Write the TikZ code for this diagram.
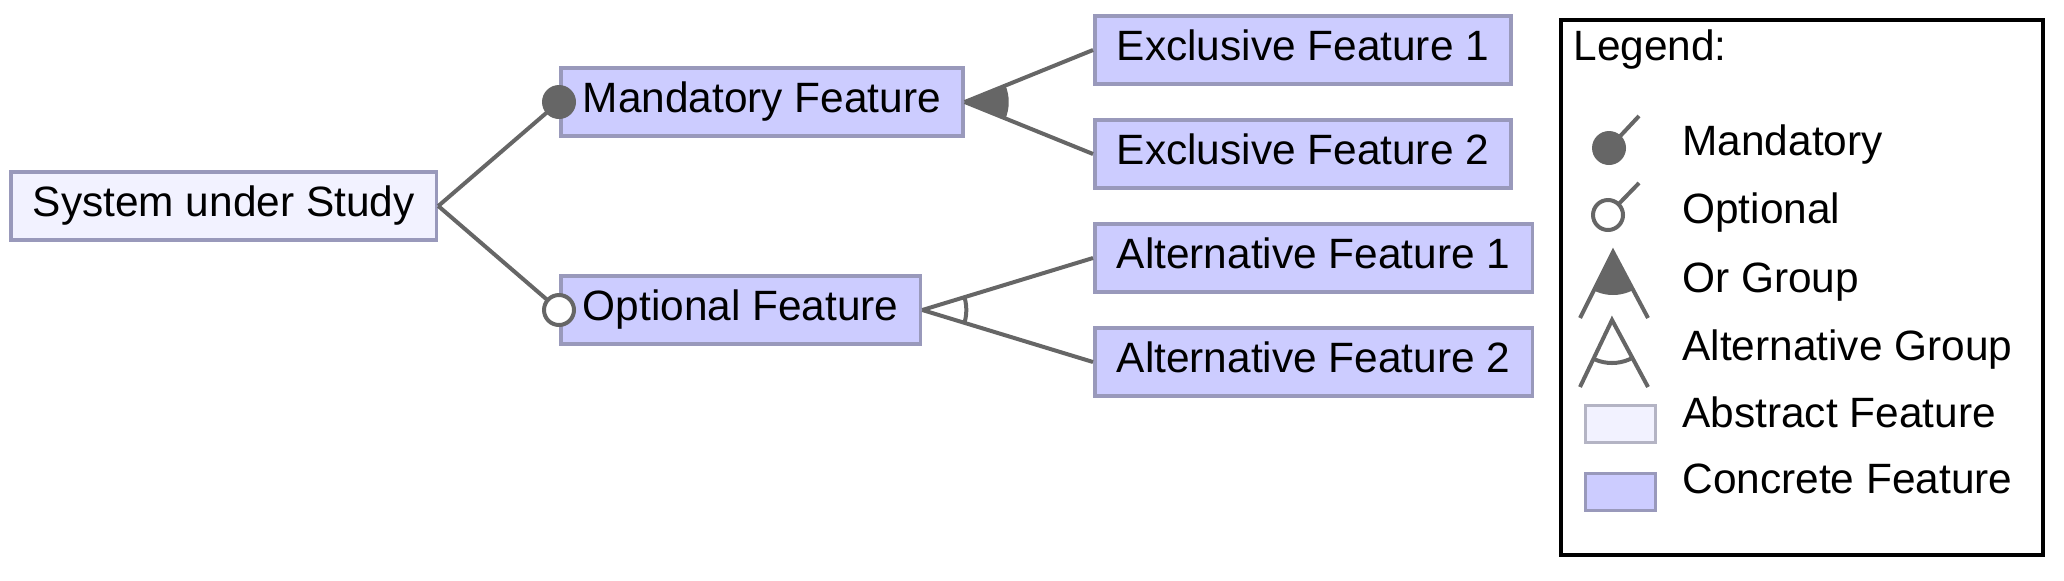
\documentclass[tikz,border=0pt]{standalone}
\usepackage{fontspec}
\setmainfont{Liberation Sans}
\usetikzlibrary{calc}
\definecolor{featfill}{HTML}{CCCCFF}
\definecolor{featline}{HTML}{9999BB}
\definecolor{absfill}{HTML}{F2F2FF}
\definecolor{absline}{HTML}{B4B4C4}
\definecolor{linegray}{HTML}{666666}

\tikzset{
  feat/.style={draw=featline, fill=featfill, line width=1.75pt, anchor=west,
    minimum height=34pt, inner xsep=11pt, inner ysep=0pt,
    text height=15pt, text depth=5pt, font=\fontsize{21.2pt}{25pt}\selectfont},
  absfeat/.style={feat, fill=absfill},
  conn/.style={draw=linegray, line width=2pt},
  legtext/.style={anchor=base west, inner sep=0pt, font=\fontsize{21.2pt}{25pt}\selectfont},
  swatch/.style={line width=1.75pt, minimum width=35pt, minimum height=18.5pt, inner sep=0pt},
}

\begin{document}
\begin{tikzpicture}[x=0.5pt,y=-0.5pt]
  \useasboundingbox (0,0) rectangle (2064,580);
  % Features
  \node[absfeat] (sys) at (9,206) {System under Study};
  \node[feat] (mand) at (559,102) {Mandatory Feature};
  \node[feat] (opt) at (559,310) {Optional Feature};
  \node[feat] (ex1) at (1093,50) {Exclusive Feature 1};
  \node[feat] (ex2) at (1093,154) {Exclusive Feature 2};
  \node[feat] (alt1) at (1093,258) {Alternative Feature 1};
  \node[feat] (alt2) at (1093,362) {Alternative Feature 2};
  % Edges
  \draw[conn] (sys.east) -- (mand.west);
  \draw[conn] (sys.east) -- (opt.west);
  \draw[conn] (mand.east) -- (ex1.west);
  \draw[conn] (mand.east) -- (ex2.west);
  \draw[conn] (opt.east) -- (alt1.west);
  \draw[conn] (opt.east) -- (alt2.west);
  % Markers
  \fill[linegray] (mand.west) circle[radius=8.5pt];
  \draw[linegray, fill=white, line width=2pt] (opt.west) circle[radius=7.5pt];
  \begin{scope}
    \clip (mand.east) -- (ex1.west) -- (ex2.west) -- cycle;
    \fill[linegray] (mand.east) circle[radius=22pt];
  \end{scope}
  \begin{scope}
    \clip (opt.east) -- (alt1.west) -- (alt2.west) -- cycle;
    \draw[linegray, line width=2pt] (opt.east) circle[radius=22pt];
  \end{scope}
  % Legend
  \node[draw=black, line width=2pt, minimum width=241pt, minimum height=267.5pt,
    anchor=north west, inner sep=0pt] (legend) at (1559,18) {};
  \node[legtext] (legtitle) at (1573,60) {Legend:};
  \node[legtext] (lmand) at (1682,155) {Mandatory};
  \node[legtext] (lopt) at (1682,223) {Optional};
  \node[legtext] (lor) at (1682,292) {Or Group};
  \node[legtext] (lalt) at (1682,360) {Alternative Group};
  \node[legtext] (labs) at (1682,427) {Abstract Feature};
  \node[legtext] (lcon) at (1682,493) {Concrete Feature};
  % Legend icons
  \coordinate (mdot) at (1609,148);
  \coordinate (mtip) at (1639,116);
  \draw[conn] (mdot) -- (mtip);
  \fill[linegray] (mdot) circle[radius=8.5pt];
  \coordinate (odot) at (1608,215);
  \coordinate (otip) at (1639,183);
  \draw[conn] (odot) -- (otip);
  \draw[linegray, fill=white, line width=2pt] (odot) circle[radius=7.5pt];
  \coordinate (orapex) at (1613,252);
  \coordinate (orleft) at (1580,318);
  \coordinate (orright) at (1648,318);
  \draw[conn] (orleft) -- (orapex) -- (orright);
  \begin{scope}
    \clip (orapex) -- (orleft) -- (orright) -- cycle;
    \fill[linegray] (orapex) circle[radius=21.5pt];
  \end{scope}
  \coordinate (altapex) at (1612,320);
  \coordinate (altleft) at (1580,387);
  \coordinate (altright) at (1648,387);
  \draw[conn] (altleft) -- (altapex) -- (altright);
  \begin{scope}
    \clip (altapex) -- (altleft) -- (altright) -- cycle;
    \draw[linegray, line width=2pt] (altapex) circle[radius=21.5pt];
  \end{scope}
  \node[swatch, draw=absline, fill=absfill] (absbox) at (1620.5,424) {};
  \node[swatch, draw=featline, fill=featfill] (conbox) at (1620.5,492) {};
\end{tikzpicture}
\end{document}
